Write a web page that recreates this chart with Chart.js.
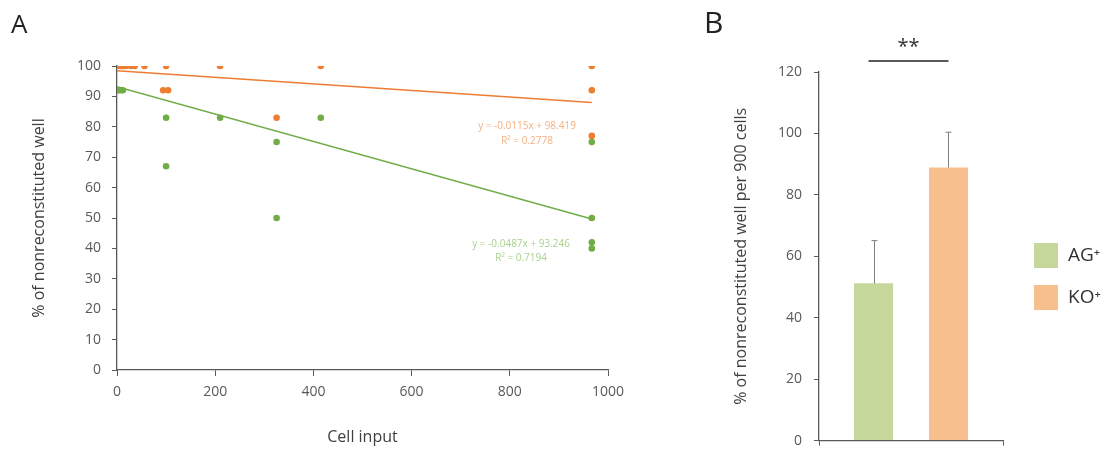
<!DOCTYPE html>
<html>
<head>
<meta charset="utf-8">
<script src="https://cdn.jsdelivr.net/npm/chart.js@4.4.1/dist/chart.umd.min.js"></script>
<style>
  html, body { margin: 0; padding: 0; background: #fff; overflow: hidden; }
  #wrap { position: relative; width: 1107px; height: 449px; overflow: hidden; }
  #left { position: absolute; left: 0; top: 0; }
  #right { position: absolute; left: 700px; top: 0; }
</style>
</head>
<body>
<div id="wrap">
  <div id="left"><canvas id="scatterChart" width="700" height="449"></canvas></div>
  <div id="right"><canvas id="barChart" width="407" height="461"></canvas></div>
</div>
<script>
// panel A: cell input vs % nonreconstituted wells
const koX = [5, 9, 13, 19, 29, 36, 56, 100, 210, 415, 967, 94, 104, 325, 967, 967];
const koY = [100, 100, 100, 100, 100, 100, 100, 100, 100, 100, 100, 92, 92, 83, 92, 77];
const agX = [3, 7, 12, 100, 100, 210, 415, 325, 325, 967, 967, 967, 967];
const agY = [92, 92, 92, 83, 67, 83, 83, 75, 50, 75, 50, 42, 40];

// trend lines, read at both ends
const trendX = [0, 967];
const koTrend = [98.4, 88.0];
const agTrend = [93.2, 49.7];
const koEq = ['y = -0.0115x + 98.419', 'R² = 0.2778'];
const agEq = ['y = -0.0487x + 93.246', 'R² = 0.7194'];

// panel B: mean per 900 cells
const groups = ['AG⁺', 'KO⁺'];
const means = [51.2, 88.9];
const sd = [13.9, 11.5];

const orange = '#ED7D31';
const green = '#70AD47';
const axisCol = '#595959';
const font = '"Open Sans", "Liberation Sans", sans-serif';

Chart.defaults.font.family = font;
Chart.defaults.color = axisCol;
Chart.defaults.animation = false;

function pts(xs, ys) {
  return xs.map((x, i) => ({ x: x, y: ys[i] }));
}

const panelLetter = {
  id: 'panelLetter',
  afterDraw(chart, args, opts) {
    const ctx = chart.ctx;
    ctx.save();
    ctx.font = opts.size + 'px ' + font;
    ctx.fillStyle = '#222';
    ctx.textBaseline = 'alphabetic';
    ctx.fillText(opts.text, opts.x, opts.y);
    ctx.restore();
  }
};

const trendLabels = {
  id: 'trendLabels',
  afterDraw(chart) {
    const ctx = chart.ctx;
    const xs = chart.scales.x, ys = chart.scales.y;
    ctx.save();
    ctx.font = '10px ' + font;
    ctx.textAlign = 'center';
    ctx.textBaseline = 'middle';
    ctx.fillStyle = '#F4B183';
    ctx.fillText(koEq[0], xs.getPixelForValue(835), ys.getPixelForValue(80.3));
    ctx.fillText(koEq[1], xs.getPixelForValue(835), ys.getPixelForValue(75.4));
    ctx.fillStyle = '#A9D18E';
    ctx.fillText(agEq[0], xs.getPixelForValue(823), ys.getPixelForValue(41.4));
    ctx.fillText(agEq[1], xs.getPixelForValue(823), ys.getPixelForValue(36.8));
    ctx.restore();
  }
};

new Chart(document.getElementById('scatterChart'), {
  type: 'scatter',
  data: {
    datasets: [
      {
        label: 'KO trend',
        data: pts(trendX, koTrend),
        showLine: true,
        borderColor: orange,
        borderWidth: 1.5,
        pointRadius: 0
      },
      {
        label: 'AG trend',
        data: pts(trendX, agTrend),
        showLine: true,
        borderColor: green,
        borderWidth: 1.5,
        pointRadius: 0
      },
      {
        label: 'KO',
        data: pts(koX, koY),
        backgroundColor: orange,
        borderWidth: 0,
        pointRadius: 3.3
      },
      {
        label: 'AG',
        data: pts(agX, agY),
        backgroundColor: green,
        borderWidth: 0,
        pointRadius: 3.3
      }
    ]
  },
  options: {
    responsive: false,
    layout: { padding: { left: 26, top: 66, right: 92, bottom: 0 } },
    plugins: {
      legend: { display: false },
      tooltip: { enabled: false },
      panelLetter: { text: 'A', x: 11, y: 33, size: 26 }
    },
    scales: {
      x: {
        type: 'linear',
        min: 0,
        max: 1000,
        ticks: { stepSize: 200, font: { size: 14 }, padding: 8, maxRotation: 0, callback: v => String(v) },
        grid: { drawOnChartArea: false, tickLength: 6, color: axisCol },
        border: { color: axisCol, width: 1.3 },
        title: { display: true, text: 'Cell input', font: { size: 16 }, color: '#404040', padding: { top: 4, bottom: 2 } },
        afterFit: s => { s.height = 79; }
      },
      y: {
        min: 0,
        max: 100,
        ticks: { stepSize: 10, font: { size: 14 }, padding: 11 },
        grid: { drawOnChartArea: false, tickLength: 5, color: axisCol },
        border: { color: axisCol, width: 1.3 },
        title: { display: true, text: '% of nonreconstituted well', font: { size: 16 }, color: '#404040' },
        afterFit: s => { s.width = 91; }
      }
    }
  },
  plugins: [panelLetter, trendLabels]
});

const errorBars = {
  id: 'errorBars',
  afterDatasetsDraw(chart) {
    const ctx = chart.ctx;
    const ys = chart.scales.y;
    ctx.save();
    ctx.strokeStyle = '#7F7F7F';
    ctx.lineWidth = 1;
    chart.data.datasets.forEach((ds, i) => {
      const bar = chart.getDatasetMeta(i).data[0];
      const x = Math.round(bar.x) + 0.5;
      const top = ys.getPixelForValue(ds.data[0] + ds.sd);
      ctx.beginPath();
      ctx.moveTo(x, bar.y);
      ctx.lineTo(x, top);
      ctx.moveTo(x - 3, top);
      ctx.lineTo(x + 3, top);
      ctx.stroke();
    });
    ctx.restore();
  }
};

const significance = {
  id: 'significance',
  afterDraw(chart) {
    const ctx = chart.ctx;
    const a = chart.getDatasetMeta(0).data[0];
    const b = chart.getDatasetMeta(1).data[0];
    const yLine = chart.chartArea.top - 11;
    ctx.save();
    ctx.strokeStyle = '#222';
    ctx.lineWidth = 1.5;
    ctx.beginPath();
    ctx.moveTo(a.x - 5, yLine);
    ctx.lineTo(b.x, yLine);
    ctx.stroke();
    ctx.fillStyle = '#333';
    ctx.font = '20px ' + font;
    ctx.textAlign = 'center';
    ctx.textBaseline = 'middle';
    ctx.fillText('**', (a.x - 5 + b.x) / 2, yLine - 14);
    ctx.restore();
  }
};

const sideLegend = {
  id: 'sideLegend',
  afterDraw(chart) {
    const ctx = chart.ctx;
    const left = chart.chartArea.right + 31;
    ctx.save();
    ctx.font = '19px ' + font;
    ctx.textBaseline = 'middle';
    chart.data.datasets.forEach((ds, i) => {
      const top = 243 + i * 42;
      ctx.fillStyle = ds.backgroundColor;
      ctx.fillRect(left, top, 24, 25);
      ctx.fillStyle = '#333';
      ctx.fillText(ds.label, left + 34, top + 13);
    });
    ctx.restore();
  }
};

new Chart(document.getElementById('barChart'), {
  type: 'bar',
  data: {
    labels: [''],
    datasets: [
      { label: groups[0], data: [means[0]], sd: sd[0], backgroundColor: '#C5D79B' },
      { label: groups[1], data: [means[1]], sd: sd[1], backgroundColor: '#F8BF8E' }
    ]
  },
  options: {
    responsive: false,
    categoryPercentage: 0.815,
    barPercentage: 0.52,
    layout: { padding: { left: 28, top: 72, right: 104, bottom: 0 } },
    plugins: {
      legend: { display: false },
      tooltip: { enabled: false },
      panelLetter: { text: 'B', x: 4, y: 33, size: 30 }
    },
    scales: {
      x: {
        ticks: { display: false },
        grid: { offset: true, drawOnChartArea: false, tickLength: 5, color: axisCol },
        border: { color: axisCol, width: 1.3 },
        afterFit: s => { s.height = 8; }
      },
      y: {
        min: 0,
        max: 120,
        ticks: { stepSize: 20, font: { size: 14 }, padding: 12 },
        grid: { drawOnChartArea: false, tickLength: 5, color: axisCol },
        border: { color: axisCol, width: 1.3 },
        title: { display: true, text: '% of nonreconstituted well per 900 cells', font: { size: 16 }, color: '#404040' },
        afterFit: s => { s.width = 91; }
      }
    }
  },
  plugins: [panelLetter, errorBars, significance, sideLegend]
});
</script>
</body>
</html>
